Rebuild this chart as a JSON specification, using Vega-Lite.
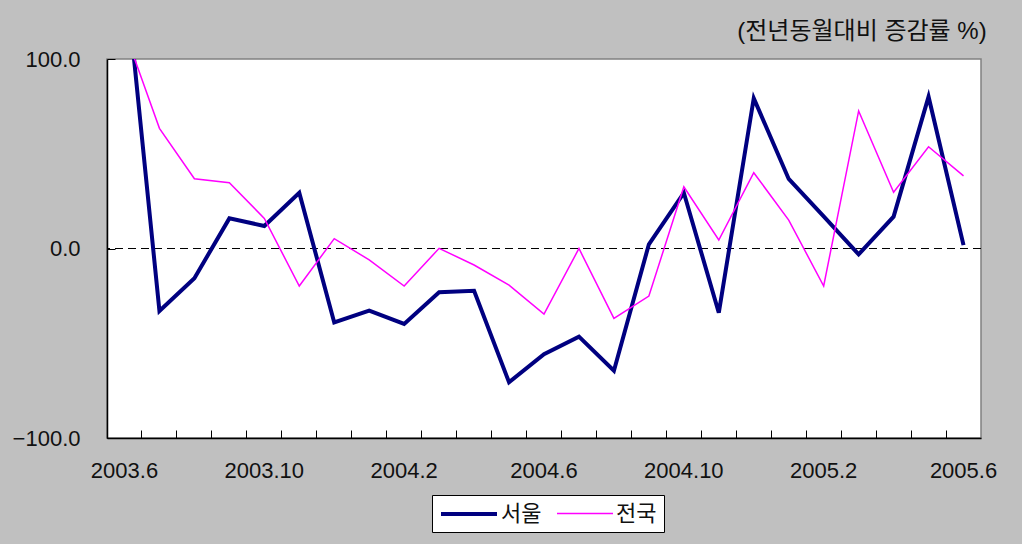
{
  "$schema": "https://vega.github.io/schema/vega-lite/v6.json",
  "width": 874,
  "height": 379,
  "autosize": {"type": "none"},
  "padding": {"left": 107, "top": 59, "right": 41, "bottom": 106},
  "background": "#c0c0c0",
  "config": {
    "view": {"fill": "white", "stroke": "#808080", "strokeWidth": 1.5},
    "font": "Liberation Sans, Noto Sans CJK KR"
  },
  "title": {
    "text": "(전년동월대비 증감률 %)",
    "anchor": "end",
    "orient": "top",
    "font": "Liberation Sans, Noto Sans CJK KR",
    "fontSize": 24,
    "fontWeight": "normal",
    "color": "#111111",
    "offset": 4,
    "dx": -10
  },
  "data": {
    "values": [
      {"month": "2003.6", "region": "서울", "value": 150},
      {"month": "2003.7", "region": "서울", "value": -33.0},
      {"month": "2003.8", "region": "서울", "value": -15.7},
      {"month": "2003.9", "region": "서울", "value": 15.9},
      {"month": "2003.10", "region": "서울", "value": 11.9},
      {"month": "2003.11", "region": "서울", "value": 29.4},
      {"month": "2003.12", "region": "서울", "value": -39.0},
      {"month": "2004.1", "region": "서울", "value": -32.8},
      {"month": "2004.2", "region": "서울", "value": -39.8},
      {"month": "2004.3", "region": "서울", "value": -23.1},
      {"month": "2004.4", "region": "서울", "value": -22.3},
      {"month": "2004.5", "region": "서울", "value": -70.6},
      {"month": "2004.6", "region": "서울", "value": -55.8},
      {"month": "2004.7", "region": "서울", "value": -46.5},
      {"month": "2004.8", "region": "서울", "value": -64.5},
      {"month": "2004.9", "region": "서울", "value": 2.2},
      {"month": "2004.10", "region": "서울", "value": 29.4},
      {"month": "2004.11", "region": "서울", "value": -33.9},
      {"month": "2004.12", "region": "서울", "value": 79.3},
      {"month": "2005.1", "region": "서울", "value": 36.7},
      {"month": "2005.2", "region": "서울", "value": 17.0},
      {"month": "2005.3", "region": "서울", "value": -3.1},
      {"month": "2005.4", "region": "서울", "value": 16.8},
      {"month": "2005.5", "region": "서울", "value": 80.1},
      {"month": "2005.6", "region": "서울", "value": 1.8},
      {"month": "2003.6", "region": "전국", "value": 115},
      {"month": "2003.7", "region": "전국", "value": 63.4},
      {"month": "2003.8", "region": "전국", "value": 36.8},
      {"month": "2003.9", "region": "전국", "value": 34.7},
      {"month": "2003.10", "region": "전국", "value": 15.9},
      {"month": "2003.11", "region": "전국", "value": -19.8},
      {"month": "2003.12", "region": "전국", "value": 5.2},
      {"month": "2004.1", "region": "전국", "value": -6.0},
      {"month": "2004.2", "region": "전국", "value": -19.8},
      {"month": "2004.3", "region": "전국", "value": 0.1},
      {"month": "2004.4", "region": "전국", "value": -8.7},
      {"month": "2004.5", "region": "전국", "value": -19.3},
      {"month": "2004.6", "region": "전국", "value": -34.6},
      {"month": "2004.7", "region": "전국", "value": 0.0},
      {"month": "2004.8", "region": "전국", "value": -36.9},
      {"month": "2004.9", "region": "전국", "value": -25.1},
      {"month": "2004.10", "region": "전국", "value": 32.6},
      {"month": "2004.11", "region": "전국", "value": 4.5},
      {"month": "2004.12", "region": "전국", "value": 40.0},
      {"month": "2005.1", "region": "전국", "value": 15.0},
      {"month": "2005.2", "region": "전국", "value": -19.8},
      {"month": "2005.3", "region": "전국", "value": 72.6},
      {"month": "2005.4", "region": "전국", "value": 29.7},
      {"month": "2005.5", "region": "전국", "value": 53.7},
      {"month": "2005.6", "region": "전국", "value": 38.3}
    ]
  },
  "resolve": {"axis": {"x": "independent", "y": "independent"}},
  "layer": [
    {
      "mark": {"type": "rule", "strokeDash": [8, 5], "color": "black", "strokeWidth": 1},
      "encoding": {"y": {"datum": 0, "type": "quantitative", "axis": null}}
    },
    {
      "mark": {"type": "line", "opacity": 0, "clip": true},
      "encoding": {
        "x": {
          "field": "month",
          "type": "ordinal",
          "sort": null,
          "scale": {"type": "band", "paddingInner": 0, "paddingOuter": 0},
          "axis": {
            "orient": "bottom",
            "title": null,
            "bandPosition": 0,
            "offset": -8,
            "labels": false,
            "domain": false,
            "ticks": true,
            "tickSize": 8,
            "tickColor": "black",
            "tickWidth": 1
          }
        },
        "y": {
          "field": "value",
          "type": "quantitative",
          "scale": {"domain": [-100, 100], "nice": false},
          "axis": {
            "orient": "left",
            "title": null,
            "values": [-100, 0, 100],
            "grid": false,
            "offset": -8,
            "labels": false,
            "domain": false,
            "ticks": true,
            "tickSize": 8,
            "tickColor": "black",
            "tickWidth": 1
          }
        }
      }
    },
    {
      "mark": {"type": "line", "clip": true},
      "encoding": {
        "x": {
          "field": "month",
          "type": "ordinal",
          "sort": null,
          "scale": {"type": "band", "paddingInner": 0, "paddingOuter": 0},
          "axis": {
            "orient": "bottom",
            "title": null,
            "labelExpr": "indexof(['2003.6','2003.10','2004.2','2004.6','2004.10','2005.2','2005.6'], datum.value) >= 0 ? datum.value : ''",
            "labelAngle": 0,
            "labelOverlap": false,
            "labelFlush": false,
            "ticks": false,
            "tickSize": 0,
            "domainColor": "black",
            "domainWidth": 1.5,
            "labelFont": "Liberation Sans",
            "labelFontSize": 22,
            "labelColor": "#111111",
            "labelPadding": 22
          }
        },
        "y": {
          "field": "value",
          "type": "quantitative",
          "scale": {"domain": [-100, 100], "nice": false},
          "axis": {
            "orient": "left",
            "title": null,
            "values": [-100, 0, 100],
            "format": ".1f",
            "grid": false,
            "ticks": false,
            "tickSize": 0,
            "domainColor": "black",
            "domainWidth": 1.5,
            "labelFont": "Liberation Sans",
            "labelFontSize": 22,
            "labelColor": "#111111",
            "labelPadding": 27
          }
        },
        "color": {
          "field": "region",
          "type": "nominal",
          "scale": {"domain": ["서울", "전국"], "range": ["#000080", "#ff00ff"]},
          "legend": {
            "title": null,
            "orient": "none",
            "legendX": 325,
            "legendY": 436,
            "direction": "horizontal",
            "fillColor": "white",
            "strokeColor": "black",
            "padding": 7,
            "symbolType": "M-2.8,0H2.8",
            "symbolSize": 400,
            "symbolOffset": 18,
            "labelFont": "Noto Sans CJK KR",
            "labelFontSize": 22,
            "labelColor": "#111111",
            "labelOffset": 20,
            "columnPadding": 12
          }
        },
        "strokeWidth": {
          "field": "region",
          "type": "nominal",
          "scale": {"domain": ["서울", "전국"], "range": [4, 1.5]}
        }
      }
    }
  ]
}
